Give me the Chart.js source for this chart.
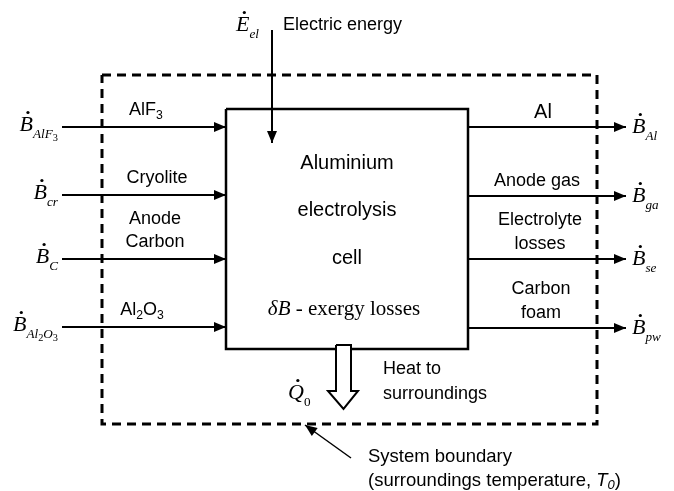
<!DOCTYPE html>
<html>
<head>
<meta charset="utf-8">
<script src="https://cdn.jsdelivr.net/npm/chart.js@4"></script>
<style>
  body { margin: 0; background: #fff; }
</style>
</head>
<body>
<canvas id="cell" width="674" height="491"></canvas>
<script>
        // flows in and out of the cell (diagram units, y grows downwards)
        var flowRows = [127, 195, 259, 327];
        var outRows = [127, 196, 259, 328];
        var inputLabels = [['AlF3'], ['Cryolite'], ['Anode', 'Carbon'], ['Al2O3']];
        var inputSubs = [[['AlF', 1], ['3', 2]], [['cr', 1]], [['C', 1]], [['Al', 1], ['2', 2], ['O', 1], ['3', 2]]];
        var outputLabels = [['Al'], ['Anode gas'], ['Electrolyte', 'losses'], ['Carbon', 'foam']];
        var outputSubs = [[['Al', 1]], [['ga', 1]], [['se', 1]], [['pw', 1]]];
        var cellText = ['Aluminium', 'electrolysis', 'cell'];
        var inputLabelX = [146, 157, 155, 142];
        var outputLabelX = [543, 537, 540, 541];

        var boundary = [[102, 75], [597, 75], [597, 424], [102, 424], [102, 75]];
        var box = [[226, 109], [468, 109], [468, 349], [226, 349], [226, 109]];
        var heatArrow = [[336, 345], [351, 345], [351, 391], [358, 391], [343.5, 409], [328, 391], [336, 391], [336, 345]];

        var SANS = '"Liberation Sans", Arial, sans-serif';
        var SERIF = '"Liberation Serif", "Times New Roman", serif';

        function pts(list) {
            return list.map(function (p) { return {x: p[0], y: p[1]}; });
        }

        var datasets = [];
        // heat arrow first so it sits on top of the box line
        datasets.push({data: pts(heatArrow), borderWidth: 2, fill: 'shape', backgroundColor: '#fff'});
        datasets.push({data: pts(box), borderWidth: 2.5});
        datasets.push({data: pts(boundary), borderWidth: 3, borderDash: [9, 6]});
        flowRows.forEach(function (r) {
            datasets.push({data: pts([[62, r], [226, r]]), borderWidth: 2, arrow: true});
        });
        outRows.forEach(function (r) {
            datasets.push({data: pts([[468, r], [626, r]]), borderWidth: 2, arrow: true});
        });
        datasets.push({data: pts([[272, 30], [272, 143]]), borderWidth: 2, arrow: true});
        datasets.push({data: pts([[351, 458], [305, 425]]), borderWidth: 1.5, arrow: true});
        datasets.forEach(function (d) {
            d.showLine = true;
            d.pointRadius = 0;
            d.borderColor = '#000';
            d.borderJoinStyle = 'miter';
            d.tension = 0;
            if (!d.backgroundColor) d.backgroundColor = '#000';
            if (!d.fill) d.fill = false;
        });

        function drawChem(ctx, str, x, y, size, align) {
            var segs = str.match(/\d+|\D+/g);
            var total = 0;
            segs.forEach(function (s) {
                var sz = /\d/.test(s) ? size * 0.68 : size;
                ctx.font = sz + 'px ' + SANS;
                total += ctx.measureText(s).width;
            });
            var cx = align === 'center' ? x - total / 2 : x;
            ctx.textAlign = 'left';
            ctx.textBaseline = 'middle';
            segs.forEach(function (s) {
                var dig = /\d/.test(s);
                var sz = dig ? size * 0.68 : size;
                ctx.font = sz + 'px ' + SANS;
                ctx.fillText(s, cx, dig ? y + size * 0.3 : y);
                cx += ctx.measureText(s).width;
            });
        }

        // dotted symbol like B-dot with italic subscripts
        function drawSym(ctx, x, y, base, subs, align, size) {
            function fontFor(t, lvl) {
                var sz = lvl === 0 ? size : (lvl === 1 ? size * 0.6 : size * 0.47);
                var it = /\d/.test(t) ? '' : 'italic ';
                return it + sz + 'px ' + SERIF;
            }
            var parts = [[base, 0]].concat(subs);
            var total = 0;
            parts.forEach(function (p) {
                ctx.font = fontFor(p[0], p[1]);
                total += ctx.measureText(p[0]).width;
            });
            var cx = align === 'right' ? x - total : x;
            ctx.textAlign = 'left';
            ctx.textBaseline = 'alphabetic';
            parts.forEach(function (p, i) {
                ctx.font = fontFor(p[0], p[1]);
                var dy = p[1] === 0 ? 0 : (p[1] === 1 ? 7 : 10);
                ctx.fillText(p[0], cx, y + dy);
                var w = ctx.measureText(p[0]).width;
                if (i === 0) {
                    ctx.beginPath();
                    ctx.arc(cx + w * 0.62, y - size * 0.66 - 4, 1.6, 0, Math.PI * 2);
                    ctx.fill();
                }
                cx += w;
            });
        }

        function sansText(ctx, t, x, y, size) {
            ctx.font = size + 'px ' + SANS;
            ctx.textAlign = 'left';
            ctx.textBaseline = 'middle';
            ctx.fillText(t, x, y);
            return ctx.measureText(t).width;
        }

        var labels = {
            id: 'diagramText',
            afterDatasetsDraw: function (chart) {
                var ctx = chart.ctx;
                var sx = chart.scales.x, sy = chart.scales.y;
                function X(v) { return sx.getPixelForValue(v); }
                function Y(v) { return sy.getPixelForValue(v); }
                ctx.save();
                ctx.fillStyle = '#000';
                ctx.strokeStyle = '#000';

                // arrowheads at the end of flagged lines
                chart.data.datasets.forEach(function (d, i) {
                    if (!d.arrow) return;
                    var el = chart.getDatasetMeta(i).data;
                    var a = el[el.length - 2], b = el[el.length - 1];
                    var ang = Math.atan2(b.y - a.y, b.x - a.x);
                    var len = 12, hw = 5;
                    ctx.beginPath();
                    ctx.moveTo(b.x, b.y);
                    ctx.lineTo(b.x - len * Math.cos(ang) + hw * Math.sin(ang), b.y - len * Math.sin(ang) - hw * Math.cos(ang));
                    ctx.lineTo(b.x - len * Math.cos(ang) - hw * Math.sin(ang), b.y - len * Math.sin(ang) + hw * Math.cos(ang));
                    ctx.closePath();
                    ctx.fill();
                });

                // input side
                inputLabels.forEach(function (lines, i) {
                    var n = lines.length;
                    lines.forEach(function (t, j) {
                        drawChem(ctx, t, X(inputLabelX[i]), Y(flowRows[i] - 17 - (n - 1 - j) * 23), 18, 'center');
                    });
                    drawSym(ctx, X(58), Y(flowRows[i] + 4), 'B', inputSubs[i], 'right', 22);
                });

                // output side
                outputLabels.forEach(function (lines, i) {
                    var n = lines.length;
                    lines.forEach(function (t, j) {
                        drawChem(ctx, t, X(outputLabelX[i]), Y(outRows[i] - 15 - (n - 1 - j) * 24), i === 0 ? 20 : 18, 'center');
                    });
                    drawSym(ctx, X(632), Y(outRows[i] + 6), 'B', outputSubs[i], 'left', 22);
                });

                // text inside the cell
                ctx.textAlign = 'center';
                ctx.textBaseline = 'middle';
                ctx.font = '20px ' + SANS;
                cellText.forEach(function (t, i) {
                    ctx.fillText(t, X(347), Y(163 + i * 47.5));
                });
                ctx.font = 'italic 21px ' + SERIF;
                var w1 = ctx.measureText('\u03B4B').width;
                ctx.font = '21px ' + SERIF;
                var w2 = ctx.measureText(' - exergy losses').width;
                var sx0 = X(344) - (w1 + w2) / 2;
                ctx.textAlign = 'left';
                ctx.font = 'italic 21px ' + SERIF;
                ctx.fillText('\u03B4B', sx0, Y(309));
                ctx.font = '21px ' + SERIF;
                ctx.fillText(' - exergy losses', sx0 + w1, Y(309));

                // electric energy
                sansText(ctx, 'Electric energy', X(283), Y(25), 18);
                drawSym(ctx, X(236), Y(31), 'E', [['el', 1]], 'left', 22);

                // heat
                sansText(ctx, 'Heat to', X(383), Y(369), 18);
                sansText(ctx, 'surroundings', X(383), Y(394), 18);
                drawSym(ctx, X(288), Y(399), 'Q', [['0', 1]], 'left', 22);

                // boundary note
                sansText(ctx, 'System boundary', X(368), Y(457), 18.5);
                var cx = X(368);
                cx += sansText(ctx, '(surroundings temperature, ', cx, Y(481), 18.5);
                ctx.font = 'italic 18.5px ' + SANS;
                ctx.fillText('T', cx, Y(481));
                cx += ctx.measureText('T').width;
                ctx.font = 'italic 13px ' + SANS;
                ctx.fillText('0', cx, Y(485));
                cx += ctx.measureText('0').width;
                sansText(ctx, ')', cx, Y(481), 18.5);
                ctx.restore();
            }
        };

        new Chart(document.getElementById('cell'), {
            type: 'scatter',
            data: {datasets: datasets},
            options: {
                responsive: false,
                animation: false,
                layout: {padding: 0},
                plugins: {
                    legend: {display: false},
                    tooltip: {enabled: false}
                },
                scales: {
                    x: {type: 'linear', min: 0, max: 674, display: false},
                    y: {type: 'linear', min: 0, max: 491, reverse: true, display: false}
                }
            },
            plugins: [labels]
        });
</script>
</body>
</html>
